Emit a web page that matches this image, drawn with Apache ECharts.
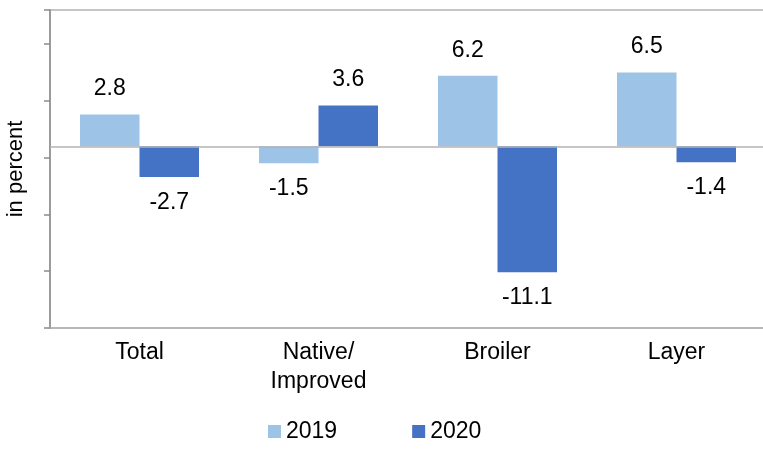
<!DOCTYPE html>
<html>
<head>
<meta charset="utf-8">
<script src="https://cdn.jsdelivr.net/npm/echarts@6/dist/echarts.min.js"></script>
<style>
  html, body { margin: 0; padding: 0; background: #fff; }
  #chart { width: 763px; height: 453px; }
</style>
</head>
<body>
<div id="chart"></div>
<script>
	var categories = ['Total', 'Native/\nImproved', 'Broiler', 'Layer'];
	var val2019 = [2.8, -1.5, 6.2, 6.5];
	var val2020 = [-2.7, 3.6, -11.1, -1.4];

	// labels go above positive bars, below negative ones
	function withLabels(arr) {
		return arr.map(function (v) {
			return { value: v, label: { position: v < 0 ? 'bottom' : 'top' } };
		});
	}

	var myChart = echarts.init(document.getElementById('chart'));
	var font = '"Liberation Sans", Arial, sans-serif';

	option = {
		backgroundColor: '#fff',
		animation: false,
		textStyle: { fontFamily: font },
		grid: {
			left: 50, top: 10, width: 716, height: 318,
			outerBoundsMode: 'none',
			containLabel: false,
			show: true, borderColor: '#b3b3b3', borderWidth: 1.5
		},
		legend: {
			left: 268,
			top: 420,
			padding: 0,
			itemWidth: 13,
			itemHeight: 13,
			itemGap: 75,
			icon: 'rect',
			textStyle: { fontSize: 23, color: '#000', fontFamily: font },
			data: ['2019', '2020']
		},
		xAxis: {
			type: 'category',
			data: categories,
			axisLine: { onZero: false, lineStyle: { color: '#b3b3b3', width: 1.5 } },
			axisTick: { show: false },
			axisLabel: { fontSize: 23, color: '#000', lineHeight: 29, margin: 10, fontFamily: font }
		},
		yAxis: {
			type: 'value',
			min: -16,
			max: 12,
			interval: 5,
			name: 'in percent',
			nameLocation: 'middle',
			nameGap: 23,
			nameTextStyle: { fontSize: 22, color: '#000', fontFamily: font },
			axisLine: { show: true, lineStyle: { color: '#8c8c8c', width: 1.5 } },
			axisTick: { show: true, length: 6, lineStyle: { color: '#8c8c8c', width: 1.5 } },
			axisLabel: { show: false },
			splitLine: { show: false }
		},
		series: [
			{
				name: '2019',
				type: 'bar',
				data: withLabels(val2019),
				barWidth: 59.5,
				barGap: '0%',
				itemStyle: { color: '#9DC3E6' },
				label: { show: true, fontSize: 23, color: '#000', distance: 14, fontFamily: font },
				markLine: {
					silent: true,
					symbol: 'none',
					label: { show: false },
					lineStyle: { color: '#b3b3b3', type: 'solid', width: 1.5 },
					data: [{ yAxis: 0 }]
				}
			},
			{
				name: '2020',
				type: 'bar',
				data: withLabels(val2020),
				barWidth: 59.5,
				barGap: '0%',
				itemStyle: { color: '#4472C4' },
				label: { show: true, fontSize: 23, color: '#000', distance: 14, fontFamily: font }
			}
		]
	};

	myChart.setOption(option);
</script>
</body>
</html>
